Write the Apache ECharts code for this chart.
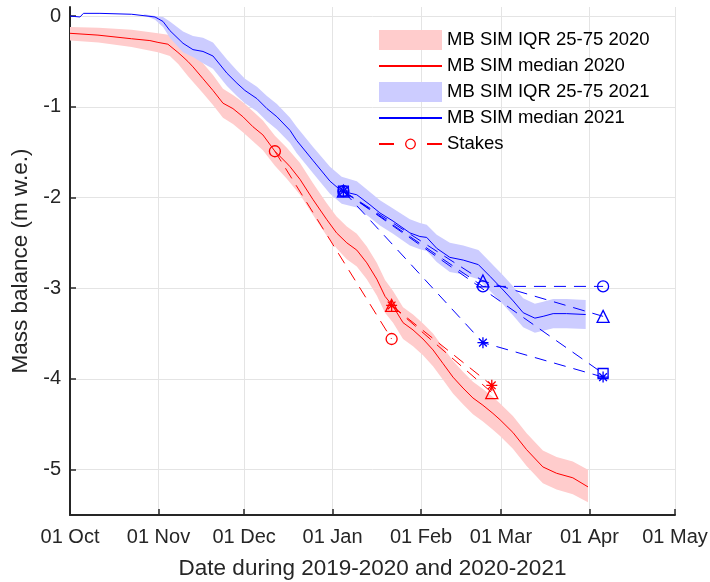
<!DOCTYPE html>
<html><head><meta charset="utf-8">
<script src="https://cdn.jsdelivr.net/npm/echarts@6/dist/echarts.min.js"></script>
<style>html,body{margin:0;padding:0;background:#fff}#c{width:710px;height:582px}</style>
</head><body><div id="c"></div>
<script>
// x axis: days since 01 Oct
const tickDays = [0, 31, 61, 92, 123, 151, 182, 212];
const tickLabels = ['01 Oct', '01 Nov', '01 Dec', '01 Jan', '01 Feb', '01 Mar', '01 Apr', '01 May'];
const yTicks = [-5, -4, -3, -2, -1, 0];

// 2020 median
const med2020Days = [0, 9.8, 21.6, 28.0, 30.8, 34.3, 35.0, 37.8, 39.6, 41.3, 43.1, 46.6, 50.1, 53.6, 57.1, 60.6, 64.1, 67.6, 71.8, 75.9, 77.1, 80.6, 85.1, 89.9, 93.4, 97.0, 100.5, 104.0, 107.5, 110.4, 113.2, 116.7, 120.2, 123.7, 127.2, 130.7, 134.2, 137.7, 141.2, 144.7, 148.2, 150.7, 155.2, 160.0, 165.7, 170.5, 176.2, 181.5];
const med2020 = [-0.19, -0.21, -0.25, -0.27, -0.29, -0.31, -0.32, -0.40, -0.45, -0.50, -0.56, -0.69, -0.82, -0.96, -1.02, -1.11, -1.22, -1.31, -1.49, -1.62, -1.66, -1.80, -2.02, -2.24, -2.39, -2.50, -2.58, -2.72, -2.90, -3.09, -3.20, -3.38, -3.46, -3.56, -3.68, -3.83, -3.98, -4.10, -4.21, -4.29, -4.38, -4.45, -4.59, -4.78, -4.97, -5.04, -5.09, -5.19];

// 2020 IQR band
const iqr2020Days = [0, 10, 21.6, 30.8, 35, 38, 41.3, 46.6, 50.1, 53.6, 57.1, 60.6, 64.1, 67.6, 71.8, 75.9, 80.6, 85.1, 89.9, 93.4, 97.0, 100.5, 104, 107.5, 110.4, 113.2, 116.7, 120.2, 123.7, 127.2, 130.7, 134.2, 137.7, 141.2, 144.7, 148.2, 150.7, 155.2, 160, 165.7, 170.5, 176.2, 181.5];
const iqr2020Hi = [-0.12, -0.13, -0.15, -0.19, -0.21, -0.27, -0.35, -0.52, -0.65, -0.80, -0.87, -0.95, -1.05, -1.15, -1.32, -1.45, -1.62, -1.84, -2.06, -2.21, -2.32, -2.40, -2.54, -2.72, -2.91, -3.03, -3.21, -3.29, -3.39, -3.50, -3.65, -3.80, -3.92, -4.03, -4.11, -4.20, -4.27, -4.41, -4.60, -4.79, -4.86, -4.91, -5.00];
const iqr2020Lo = [-0.27, -0.29, -0.34, -0.40, -0.44, -0.53, -0.66, -0.85, -0.98, -1.12, -1.19, -1.28, -1.38, -1.48, -1.65, -1.79, -1.97, -2.19, -2.42, -2.56, -2.68, -2.76, -2.90, -3.08, -3.27, -3.38, -3.56, -3.64, -3.74, -3.86, -4.01, -4.16, -4.28, -4.39, -4.47, -4.56, -4.63, -4.77, -4.96, -5.15, -5.22, -5.27, -5.36];

// 2021 median
const med2021Days = [0, 3.5, 4.7, 10.5, 21.6, 29.8, 32.6, 35.0, 39.6, 43.1, 46.6, 50.1, 55.0, 58.5, 61.3, 65.5, 69.0, 72.5, 77.1, 79.4, 85.1, 91.1, 95.2, 100.5, 105.1, 108.6, 113.2, 119.1, 122.6, 125.0, 128.5, 133.1, 137.8, 143.1, 147.2, 151.8, 155.3, 158.8, 162.9, 165.8, 169.3, 174.0, 180.7];
const med2021 = [0.00, -0.01, 0.03, 0.03, 0.02, -0.01, -0.06, -0.16, -0.30, -0.37, -0.39, -0.44, -0.63, -0.74, -0.82, -0.91, -1.02, -1.11, -1.26, -1.37, -1.59, -1.82, -1.93, -1.97, -2.08, -2.17, -2.26, -2.39, -2.43, -2.44, -2.56, -2.66, -2.69, -2.74, -2.87, -3.02, -3.14, -3.27, -3.33, -3.31, -3.28, -3.28, -3.29];

// 2021 IQR band
const iqr2021Days = [26, 29.8, 32.6, 35, 39.6, 43.1, 46.6, 50.1, 55, 58.5, 61.3, 65.5, 69, 72.5, 77.1, 79.4, 85.1, 91.1, 95.2, 100.5, 105.1, 108.6, 113.2, 119.1, 122.6, 125, 128.5, 133.1, 137.8, 143.1, 147.2, 151.8, 155.3, 158.8, 162.9, 165.8, 169.3, 174.0, 180.7];
const iqr2021Hi = [0.02, 0.00, -0.01, -0.06, -0.17, -0.22, -0.24, -0.29, -0.48, -0.60, -0.69, -0.78, -0.88, -0.97, -1.12, -1.22, -1.44, -1.66, -1.77, -1.82, -1.94, -2.03, -2.12, -2.24, -2.28, -2.30, -2.41, -2.50, -2.53, -2.58, -2.71, -2.86, -2.98, -3.11, -3.17, -3.15, -3.12, -3.12, -3.13];
const iqr2021Lo = [0.01, -0.04, -0.12, -0.24, -0.40, -0.45, -0.52, -0.58, -0.77, -0.88, -0.96, -1.05, -1.16, -1.25, -1.40, -1.51, -1.73, -1.96, -2.07, -2.11, -2.22, -2.31, -2.40, -2.53, -2.57, -2.59, -2.71, -2.82, -2.85, -2.90, -3.03, -3.18, -3.30, -3.43, -3.49, -3.47, -3.44, -3.44, -3.45];

// Stakes (day, mass balance)
const stakeR_circleDays = [71.8, 112.7];
const stakeR_circle = [-1.49, -3.56];
const stakeR_triDays = [112.7, 147.8];
const stakeR_tri = [-3.19, -4.15];
const stakeR_starDays = [112.7, 147.8];
const stakeR_star = [-3.19, -4.07];
const stakeB_circleDays = [95.8, 144.7, 186.8];
const stakeB_circle = [-1.93, -2.98, -2.98];
const stakeB_triDays = [95.8, 144.7, 186.8];
const stakeB_tri = [-1.93, -2.92, -3.31];
const stakeB_starDays = [95.8, 144.7, 186.8];
const stakeB_star = [-1.93, -3.60, -3.98];
const stakeB_sqDays = [95.8, 186.8];
const stakeB_sq = [-1.93, -3.94];

const RED = '#ff0000', BLUE = '#0000ff';
const PINK = 'rgb(255,204,204)', LBLUE = 'rgb(204,204,255)';
const FONT = '"Liberation Sans", Arial, Helvetica, sans-serif';
const TXT = '#262626';
const STAR = 'path://M5,0L5,10M0,5L10,5M1.5,1.5L8.5,8.5M1.5,8.5L8.5,1.5';
const DASH = [12, 8];

function zip(a, b) { return a.map((d, i) => [d, b[i]]); }

function band(name, days, hi, lo, color) {
  return {
    name: name, type: 'custom', z: 1, silent: true, clip: true,
    itemStyle: { color: color },
    data: days.map((d, i) => [d, hi[i], lo[i]]),
    encode: { x: 0, y: [1, 2] },
    renderItem: function (params, api) {
      if (params.dataIndex !== 0) return null;
      const pts = [];
      for (let i = 0; i < days.length; i++) pts.push(api.coord([days[i], hi[i]]));
      for (let i = days.length - 1; i >= 0; i--) pts.push(api.coord([days[i], lo[i]]));
      return { type: 'polygon', shape: { points: pts }, style: { fill: color } };
    }
  };
}

function median(name, days, vals, color) {
  return {
    name: name, type: 'line', z: 3, symbol: 'none', silent: true,
    data: zip(days, vals),
    lineStyle: { color: color, width: 1 },
    itemStyle: { color: color },
    emphasis: { disabled: true }
  };
}

function stake(name, days, vals, color, symbol, size) {
  return {
    name: name, type: 'line', z: 4, silent: true,
    data: zip(days, vals),
    symbol: symbol, symbolSize: size, showSymbol: true, showAllSymbol: true,
    lineStyle: { color: color, width: 1, type: DASH },
    itemStyle: { color: 'rgba(0,0,0,0)', borderColor: color, borderWidth: 1.3 },
    emphasis: { disabled: true }
  };
}

const chart = echarts.init(document.getElementById('c'), null, { renderer: 'canvas' });
chart.setOption({
  animation: false,
  backgroundColor: '#fff',
  grid: { left: 70, right: 35, top: 7, bottom: 67, containLabel: false, outerBoundsMode: 'none' },
  xAxis: {
    type: 'value', min: 0, max: 212,
    name: 'Date during 2019-2020 and 2020-2021',
    nameLocation: 'middle', nameGap: 42,
    nameTextStyle: { fontSize: 22.5, color: TXT, fontFamily: FONT },
    axisLine: { show: true, onZero: false, lineStyle: { color: TXT, width: 2 } },
    axisTick: { show: true, inside: true, length: 6, customValues: tickDays, lineStyle: { color: TXT, width: 1.5 } },
    axisLabel: {
      customValues: tickDays, margin: 12, fontSize: 20, color: TXT, fontFamily: FONT,
      formatter: function (v) { const i = tickDays.indexOf(v); return i >= 0 ? tickLabels[i] : ''; }
    },
    splitLine: { show: true, lineStyle: { color: '#e4e4e4', width: 1 } }
  },
  yAxis: {
    type: 'value', min: -5.5, max: 0.1,
    name: 'Mass balance (m w.e.)',
    nameLocation: 'middle', nameGap: 32, nameRotate: 90,
    nameTextStyle: { fontSize: 22.5, color: TXT, fontFamily: FONT },
    axisLine: { show: true, onZero: false, lineStyle: { color: TXT, width: 2 } },
    axisTick: { show: true, inside: true, length: 6, customValues: yTicks, lineStyle: { color: TXT, width: 1.5 } },
    axisLabel: { customValues: yTicks, margin: 9, fontSize: 20, color: TXT, fontFamily: FONT,
      formatter: function (v) { return String(v); } },
    splitLine: { show: true, lineStyle: { color: '#e4e4e4', width: 1 } }
  },
  legend: [
    {
      orient: 'vertical', left: 378, top: 30, padding: 0,
      itemWidth: 63, itemHeight: 20, itemGap: 6, selectedMode: false,
      textStyle: { fontSize: 18.5, color: '#000', fontFamily: FONT, lineHeight: 20 },
      data: [
        { name: 'MB SIM IQR 25-75 2020', icon: 'rect' },
        { name: 'MB SIM median 2020', itemStyle: { opacity: 0 } },
        { name: 'MB SIM IQR 25-75 2021', icon: 'rect' },
        { name: 'MB SIM median 2021', itemStyle: { opacity: 0 } }
      ]
    },
    {
      orient: 'vertical', left: 378, top: 134, padding: 0,
      itemWidth: 63, itemHeight: 12, selectedMode: false,
      textStyle: { fontSize: 18.5, color: '#000', fontFamily: FONT, lineHeight: 20 },
      data: [ { name: 'Stakes', lineStyle: { type: [15, 33] }, itemStyle: { borderWidth: 1.3 } } ]
    }
  ],
  series: [
    band('MB SIM IQR 25-75 2020', iqr2020Days, iqr2020Hi, iqr2020Lo, PINK),
    band('MB SIM IQR 25-75 2021', iqr2021Days, iqr2021Hi, iqr2021Lo, LBLUE),
    median('MB SIM median 2020', med2020Days, med2020, RED),
    median('MB SIM median 2021', med2021Days, med2021, BLUE),
    stake('Stakes', stakeR_circleDays, stakeR_circle, RED, 'circle', 11),
    stake('stakeR2', stakeR_triDays, stakeR_tri, RED, 'triangle', 12),
    stake('stakeR3', stakeR_starDays, stakeR_star, RED, STAR, 11),
    stake('stakeB1', stakeB_circleDays, stakeB_circle, BLUE, 'circle', 11),
    stake('stakeB2', stakeB_triDays, stakeB_tri, BLUE, 'triangle', 12),
    stake('stakeB3', stakeB_starDays, stakeB_star, BLUE, STAR, 11),
    stake('stakeB4', stakeB_sqDays, stakeB_sq, BLUE, 'rect', 10)
  ]
});
</script></body></html>
